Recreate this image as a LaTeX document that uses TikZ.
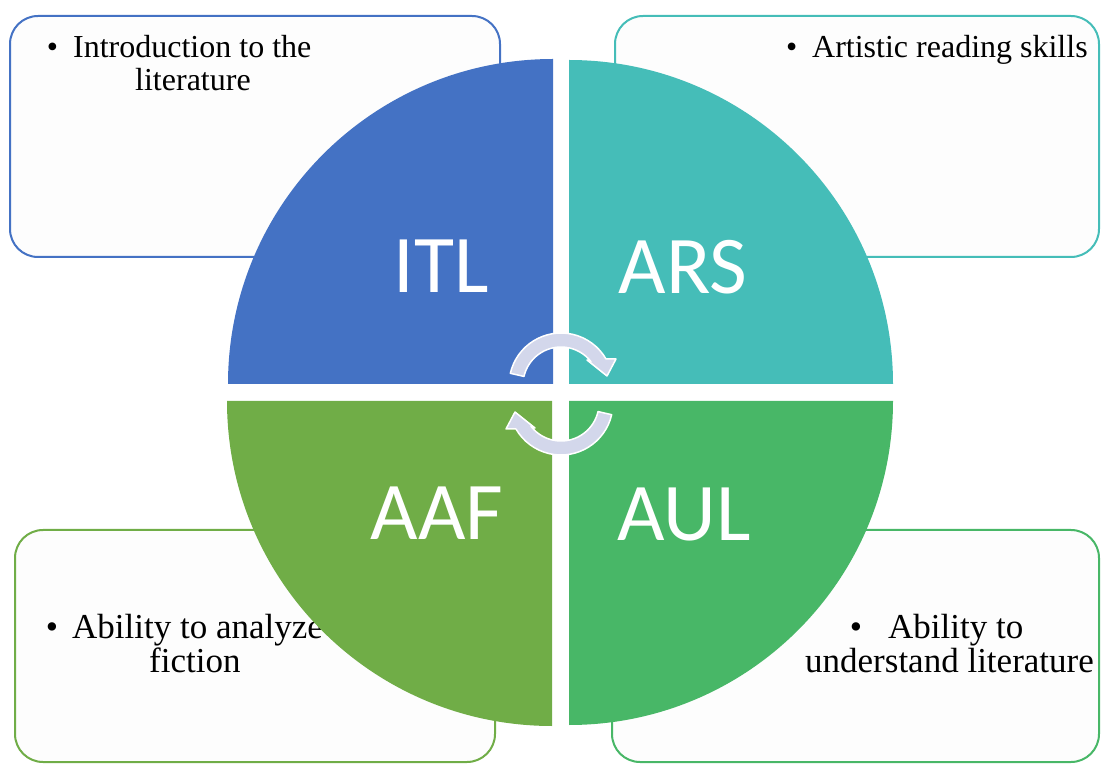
\documentclass[tikz,border=0pt]{standalone}
\usepackage{fontspec}
\setmainfont{Liberation Serif}
\newfontfamily\labfont{Carlito}
\usetikzlibrary{calc}
\definecolor{cBlue}{HTML}{4472C4}
\definecolor{cTeal}{HTML}{45BDB8}
\definecolor{cGreenA}{HTML}{70AD47}
\definecolor{cGreenB}{HTML}{48B767}
\definecolor{cArrow}{HTML}{D3D7EB}
\definecolor{cBoxFill}{HTML}{FDFDFD}
\begin{document}
\begin{tikzpicture}[x=1pt,y=1pt,
  infobox/.style={rounded corners=28pt, line width=2pt, fill=cBoxFill},
  qlabel/.style={text=white, font=\labfont\fontsize{82}{82}\selectfont, inner sep=0},
  btext/.style={font=\fontsize{32}{34}\selectfont, inner sep=0, anchor=base west},
  bbtext/.style={font=\fontsize{35}{36}\selectfont, inner sep=0, anchor=base west},
  cyc/.style={fill=cArrow, draw=white, line width=1.5pt, line join=round}]
\useasboundingbox (0,0) rectangle (1101,764);
% boxes
\draw[infobox, draw=cBlue] (10,748) rectangle (500,507);
\draw[infobox, draw=cTeal] (615,748) rectangle (1099,507);
\draw[infobox, draw=cGreenA] (15,234) rectangle (495,2);
\draw[infobox, draw=cGreenB] (612,234) rectangle (1099,2);
% box texts
\node[btext] (t1a) at (73,706) {\llap{\textbullet\hspace{15pt}}Introduction to the};
\node[btext] (t1b) at (135,673) {literature};
\node[btext] (t2a) at (812,706) {\llap{\textbullet\hspace{15pt}}Artistic reading skills};
\node[bbtext] (t3a) at (72,126) {\llap{\textbullet\hspace{14pt}}Ability to analyze};
\node[bbtext] (t3b) at (149,92) {fiction};
\node[bbtext] (t4a) at (888,126) {\llap{\textbullet\hspace{26pt}}Ability to};
\node[bbtext] (t4b) at (805,92) {understand literature};
% quadrants
\fill[cBlue] (553,380) -- (228,380) arc[start angle=180, end angle=90, radius=325] -- cycle;
\fill[cTeal] (569,380) -- (569,704) arc[start angle=90, end angle=0, radius=324] -- cycle;
\fill[cGreenA] (552,363) -- (227,363) arc[start angle=180, end angle=270, radius=325] -- cycle;
\fill[cGreenB] (569,363) -- (893,363) arc[start angle=0, end angle=-90, radius=324] -- cycle;
% labels
\node[qlabel] (itl) at (441,498) {ITL};
\node[qlabel] (ars) at (683,497) {ARS};
\node[qlabel] (aaf) at (437,251) {AAF};
\node[qlabel] (aul) at (684,250) {AUL};
% cycle arrows
\begin{scope}[shift={(561,379)}]
\filldraw[cyc] (167:52) arc[start angle=167, end angle=30, radius=52] -- (55,26) -- (46,9) -- (26,25) -- (38:38) arc[start angle=38, end angle=167, radius=38] -- cycle;
\end{scope}
\begin{scope}[shift={(561,361)}, rotate=180]
\filldraw[cyc] (167:52) arc[start angle=167, end angle=30, radius=52] -- (55,26) -- (46,9) -- (26,25) -- (38:38) arc[start angle=38, end angle=167, radius=38] -- cycle;
\end{scope}
\end{tikzpicture}
\end{document}
